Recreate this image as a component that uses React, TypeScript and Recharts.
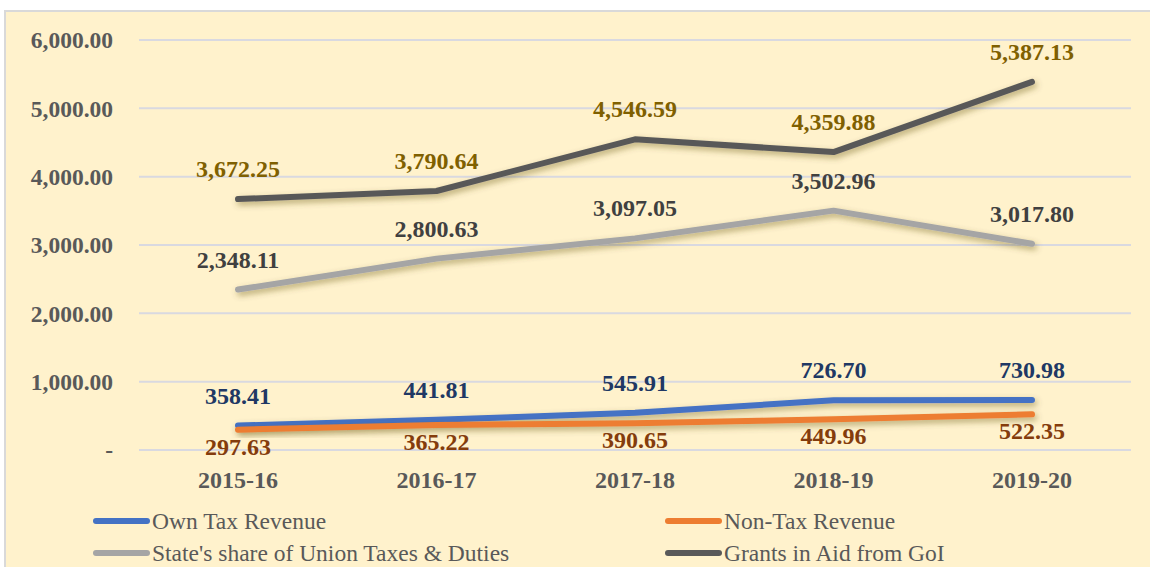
import React from 'react';
import { LineChart, Line, XAxis, YAxis, CartesianGrid, LabelList } from 'recharts';

const years = ['2015-16', '2016-17', '2017-18', '2018-19', '2019-20'];
const ownTax = [358.41, 441.81, 545.91, 726.7, 730.98];
const nonTax = [297.63, 365.22, 390.65, 449.96, 522.35];
const unionShare = [2348.11, 2800.63, 3097.05, 3502.96, 3017.8];
const grants = [3672.25, 3790.64, 4546.59, 4359.88, 5387.13];
const yTicks = [0, 1000, 2000, 3000, 4000, 5000, 6000];

const data = years.map((year, i) => ({
  year,
  ownTax: ownTax[i],
  nonTax: nonTax[i],
  unionShare: unionShare[i],
  grants: grants[i],
}));

const FONT = '"Liberation Serif", "Times New Roman", serif';

const fmt = (v: number) =>
  v.toLocaleString('en-US', { minimumFractionDigits: 2, maximumFractionDigits: 2 });

const series = [
  { key: 'ownTax', name: 'Own Tax Revenue', color: '#4472C4', label: '#203864', dy: -22 },
  { key: 'nonTax', name: 'Non-Tax Revenue', color: '#ED7D31', label: '#843C0C', dy: 25 },
  { key: 'unionShare', name: "State's share of Union Taxes & Duties", color: '#A5A5A5', label: '#404040', dy: -22 },
  { key: 'grants', name: 'Grants in Aid from GoI', color: '#595959', label: '#7F6000', dy: -22 },
];

const makeLabel = (color: string, dy: number) => (props: any) => {
  const { x, y, value } = props;
  return (
    <text
      x={x}
      y={y + dy}
      textAnchor="middle"
      fill={color}
      fontFamily={FONT}
      fontWeight="bold"
      fontSize={24}
    >
      {fmt(Number(value))}
    </text>
  );
};

const App = () => {
  return (
    <div
      style={{
        position: 'fixed',
        left: 0,
        top: 0,
        width: 1150,
        height: 567,
        background: '#fff',
        overflow: 'hidden',
        fontFamily: FONT,
      }}
    >
      <div
        style={{
          position: 'absolute',
          left: 4,
          top: 10,
          width: 1160,
          height: 600,
          background: '#FFF2CC',
          border: '2px solid #d9d9d9',
        }}
      />
      <div style={{ position: 'absolute', left: 0, top: 0 }}>
        <LineChart
          width={1150}
          height={500}
          data={data}
          margin={{ top: 40, right: 19, left: 0, bottom: 0 }}
        >
          <defs>
            <filter id="lineShadow" x="-10%" y="-50%" width="120%" height="200%">
              <feDropShadow dx="2" dy="3" stdDeviation="3" floodColor="#5a4a10" floodOpacity="0.45" />
            </filter>
          </defs>
          <CartesianGrid vertical={false} stroke="#d9d9e0" strokeWidth={2} />
          <XAxis
            dataKey="year"
            height={50}
            axisLine={false}
            tickLine={false}
            tickSize={0}
            tickMargin={21}
            padding={{ left: 99, right: 99 }}
            tick={{ fill: '#595959', fontSize: 24, fontWeight: 'bold', fontFamily: FONT }}
          />
          <YAxis
            width={139}
            domain={[0, 6000]}
            ticks={yTicks}
            axisLine={false}
            tickLine={false}
            tickSize={0}
            tickMargin={26}
            tickFormatter={(v: number) => (v === 0 ? '-' : fmt(v))}
            tick={{ fill: '#595959', fontSize: 23.5, fontWeight: 'bold', fontFamily: FONT }}
          />
          {series.map((s) => (
            <Line
              key={s.key}
              dataKey={s.key}
              name={s.name}
              stroke={s.color}
              strokeWidth={6}
              strokeLinecap="round"
              strokeLinejoin="round"
              dot={false}
              activeDot={false}
              type="linear"
              filter="url(#lineShadow)"
              isAnimationActive={false}
            >
              <LabelList dataKey={s.key} content={makeLabel(s.label, s.dy)} />
            </Line>
          ))}
        </LineChart>
      </div>
      {series.map((s, i) => (
        <div
          key={s.key}
          style={{
            position: 'absolute',
            left: i % 2 === 0 ? 93 : 665,
            top: i < 2 ? 507 : 539,
            height: 28,
            display: 'flex',
            alignItems: 'center',
            fontSize: 23.5,
            color: '#595959',
            whiteSpace: 'nowrap',
          }}
        >
          <span
            style={{
              display: 'inline-block',
              width: 57,
              height: 6,
              borderRadius: 3,
              background: s.color,
              marginRight: 2,
            }}
          />
          {s.name}
        </div>
      ))}
    </div>
  );
};

export default App;
